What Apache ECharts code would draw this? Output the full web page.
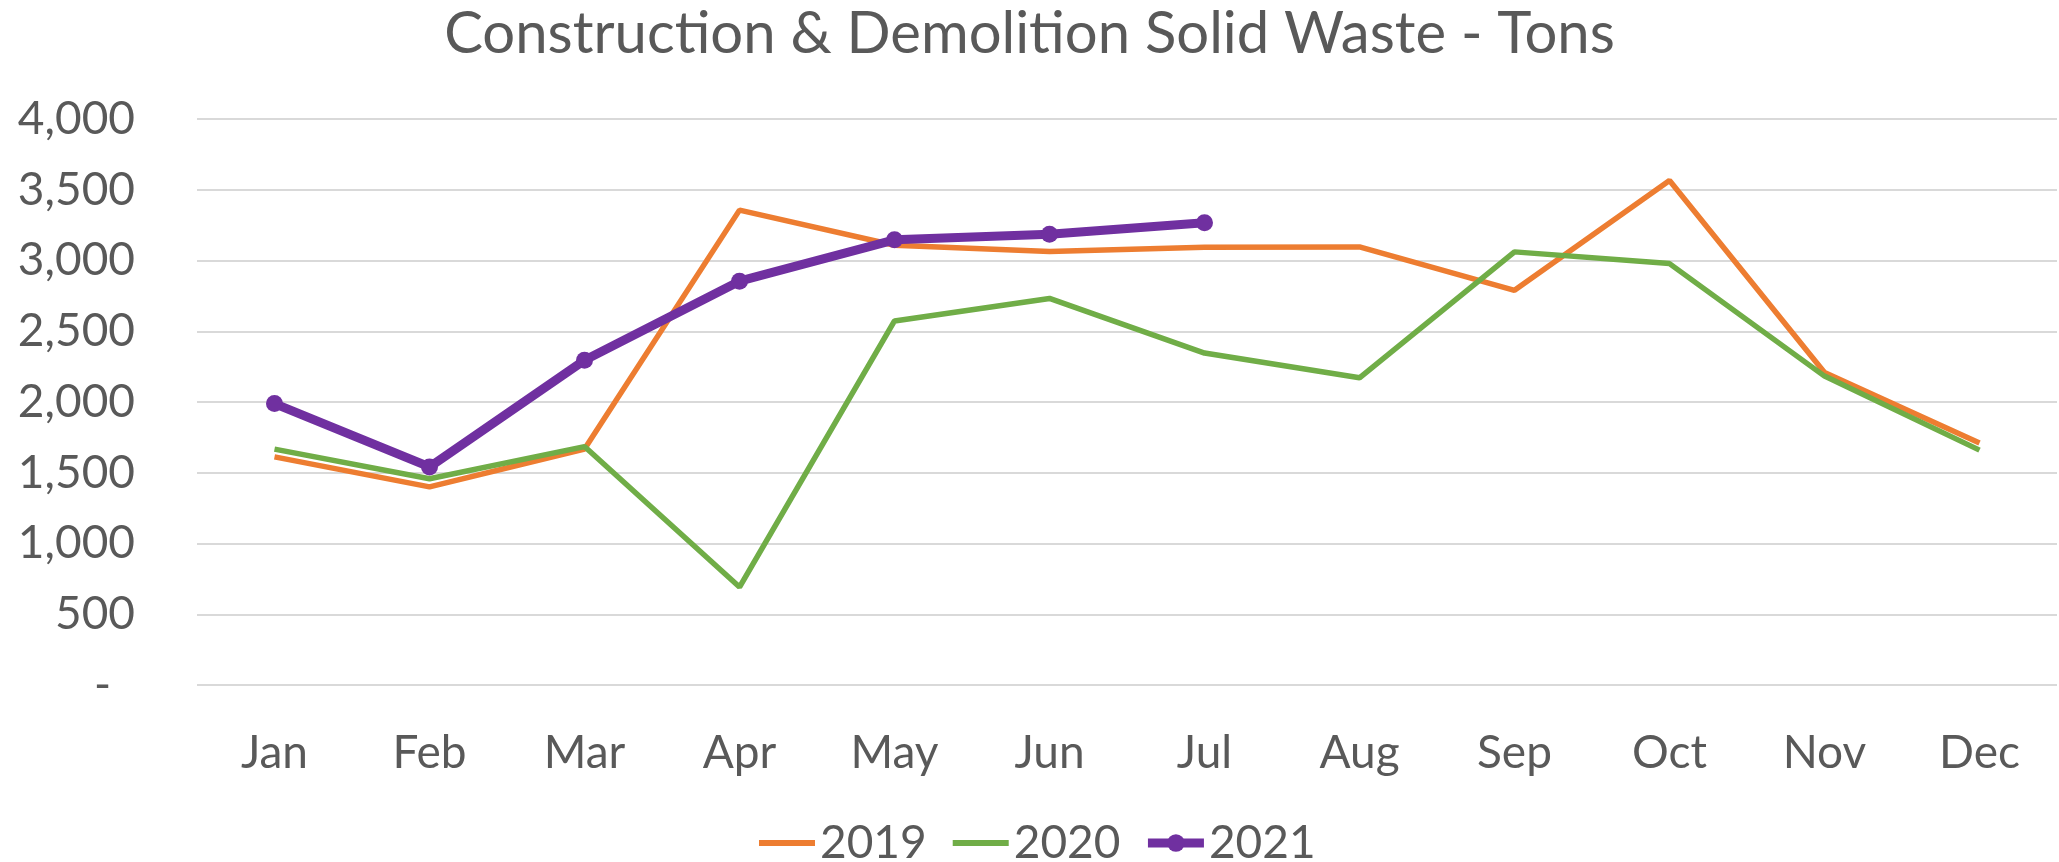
<!DOCTYPE html>
<html>
<head>
<meta charset="utf-8">
<title>Construction & Demolition Solid Waste - Tons</title>
<script src="https://cdn.jsdelivr.net/npm/echarts@6/dist/echarts.min.js"></script>
<style>
  html, body { margin: 0; padding: 0; background: #fff; }
  #chart { width: 2059px; height: 862px; }
</style>
</head>
<body>
<div id="chart"></div>
<script>
// ===== C&D solid waste by month =====

const months = ['Jan', 'Feb', 'Mar', 'Apr', 'May', 'Jun', 'Jul', 'Aug', 'Sep', 'Oct', 'Nov', 'Dec'];
const tons2019 = [1612, 1400, 1668, 3356, 3108, 3063, 3094, 3096, 2789, 3565, 2209, 1711];
const tons2020 = [1667, 1458, 1685, 692, 2573, 2732, 2346, 2171, 3061, 2978, 2183, 1660];
const tons2021 = [1989, 1541, 2295, 2854, 3146, 3186, 3266];

const COLORS = {
  y2019: '#ED7D31',
  y2020: '#70AD47',
  y2021: '#7030A0',
  text: '#595959',
  grid: '#D9D9D9',
};
const FONT = 'Lato';

const chart = echarts.init(document.getElementById('chart'));

const option = {
  animation: false,
  title: {
    text: 'Construction & Demolition Solid Waste - Tons',
    left: 'center',
    top: 0,
    textStyle: { fontFamily: FONT, fontSize: 58, fontWeight: 'normal', color: COLORS.text },
  },
  legend: {
    // plain line icons for 2019/2020, line + dot for 2021
    data: [
      { name: '2019', itemStyle: { color: 'transparent', borderWidth: 0 }, lineStyle: { width: 6 } },
      { name: '2020', itemStyle: { color: 'transparent', borderWidth: 0 }, lineStyle: { width: 6 } },
      { name: '2021', lineStyle: { width: 9 } },
    ],
    left: 751,
    top: 815,
    itemWidth: 56,
    itemHeight: 22,
    itemGap: 23,
    textStyle: { fontFamily: FONT, fontSize: 46, color: COLORS.text },
  },
  grid: { left: 197, right: 2, top: 119, bottom: 177, containLabel: false },
  xAxis: {
    type: 'category',
    data: months,
    axisLine: { show: false },
    axisTick: { show: false },
    axisLabel: { fontFamily: FONT, fontSize: 46, color: COLORS.text, margin: 45 },
  },
  yAxis: {
    type: 'value',
    min: 0,
    max: 4000,
    interval: 500,
    axisLine: { show: false },
    axisTick: { show: false },
    splitLine: { lineStyle: { color: COLORS.grid, width: 2 } },
    axisLabel: {
      fontFamily: FONT, fontSize: 46, color: COLORS.text, margin: 62,
      // accounting style: zero shows as a dash
      formatter: v => v === 0 ? '{d|-}' : v.toLocaleString('en-US'),
      rich: { d: { fontFamily: FONT, fontSize: 46, color: COLORS.text, padding: [0, 24, 0, 0] } },
    },
  },
  series: [
    {
      name: '2019', type: 'line', data: tons2019,
      symbol: 'none',
      lineStyle: { color: COLORS.y2019, width: 5.5 },
      itemStyle: { color: COLORS.y2019 },
    },
    {
      name: '2020', type: 'line', data: tons2020,
      symbol: 'none',
      lineStyle: { color: COLORS.y2020, width: 5.5 },
      itemStyle: { color: COLORS.y2020 },
    },
    {
      name: '2021', type: 'line', data: tons2021,
      symbol: 'circle', symbolSize: 17,
      lineStyle: { color: COLORS.y2021, width: 9 },
      itemStyle: { color: COLORS.y2021 },
    },
  ],
};

chart.setOption(option);
window.addEventListener('resize', () => chart.resize());
</script>
</body>
</html>
